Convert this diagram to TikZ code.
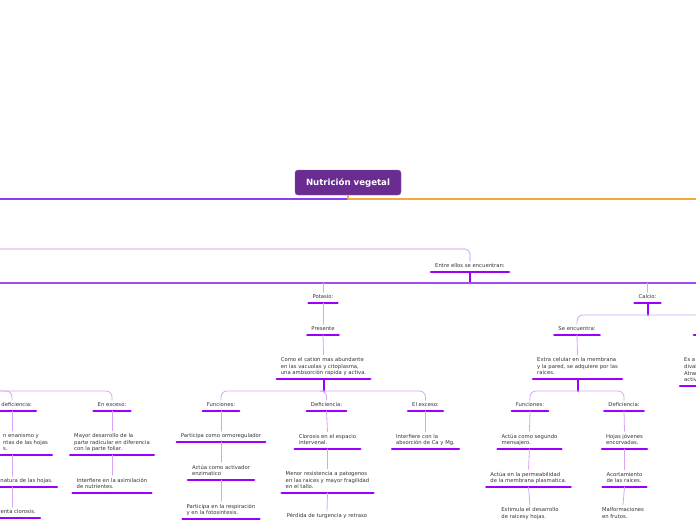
\documentclass[tikz,border=0pt]{standalone}
\usepackage{fontspec}
\setmainfont{DejaVu Sans}
\usetikzlibrary{positioning}
\definecolor{craiz}{HTML}{6A2C91}
\definecolor{naranja}{HTML}{F5A742}
\definecolor{morado}{HTML}{8A3FF5}
\definecolor{lila}{HTML}{DDBDFB}
\definecolor{violeta}{HTML}{A24BF2}
\definecolor{subraya}{HTML}{9B00FA}
\definecolor{cenlace}{HTML}{D6A3F5}
\definecolor{texto}{HTML}{333333}
\begin{document}
\begin{tikzpicture}[x=1pt, y=-1pt, line join=round, line cap=round,
  centro/.style={fill=craiz, draw=craiz!80!white, rounded corners=3pt, minimum width=106pt, minimum height=25pt, text=white, font=\fontsize{8.6}{10}\selectfont\bfseries},
  tema/.style={font=\fontsize{5.3}{6.7}\selectfont, text=texto, align=left, inner xsep=5pt, inner ysep=2.5pt, text depth=1.4pt, anchor=south,
    append after command={([xshift=1pt]\tikzlastnode.south west) edge[subraya, line width=2.3pt] ([xshift=-1pt]\tikzlastnode.south east)}},
  enlace/.style={cenlace, line width=0.8pt},
  tallo/.style={subraya, line width=2pt},
  linea/.style={line width=1.2pt},
]
\useasboundingbox (0,0) rectangle (696,520);
\clip (0,0) rectangle (696,520);

% tema central
\node[centro] (raiz) at (348,182.5) {Nutrición vegetal};

% nodos
\node[tema] (entre) at (470,272) {Entre ellos se encuentran:};
\node[tema] (potasio) at (323,303) {Potasio:};
\node[tema] (presente) at (323,335) {Presente};
\node[tema] (cation) at (323.5,379) {Como el cation mas abundante\\ en las vacuolas y citoplasma,\\ una ambsorción rapida y activa.};
\node[tema] (kfun) at (221,411) {Funciones:};
\node[tema] (kfun1) at (221,442) {Participa como ormoregulador};
\node[tema] (kfun2) at (221,480) {Actúa como activador\\ enzimatico};
\node[tema] (kfun3) at (221,519) {Participa en la respiración\\ y en la fotosintesis.};
\node[tema] (kdef) at (326.5,411) {Deficiencia:};
\node[tema] (kdef1) at (327.5,449) {Clorosis en el espacio\\ intervenal.};
\node[tema] (kdef2) at (327.5,493) {Menor resistencia a patogenos\\ en las raices y mayor fragilidad\\ en el tallo.};
\node[tema, anchor=north] (kdef3) at (327,511) {Pérdida de turgencia y retraso};
\node[tema] (kexc) at (425.5,411) {El exceso:};
\node[tema] (kexc1) at (425.5,449) {Interfiere con la\\ absorción de Ca y Mg.};

\node[tema, anchor=south east] (ldef) at (37,411) {deficiencia:};
\node[tema, anchor=south east] (ldef1) at (53,455) {n enanismo y\\ ntas de las hojas\\ s.};
\node[tema, anchor=south east] (ldef2) at (58,487) {natura de las hojas.};
\node[tema, anchor=south east] (ldef3) at (41,518) {enta clorosis.};
\node[tema] (lexc) at (112,411) {En exceso:};
\node[tema] (lexc1) at (112,455) {Mayor desarrollo de la\\ parte radicular en diferencia\\ con la parte foliar.};
\node[tema] (lexc2) at (112,493) {Interfiere en la asimilación\\ de nutrientes.};

\node[tema] (calcio) at (647.5,303) {Calcio:};
\node[tema] (seenc) at (577,335) {Se encuentra:};
\node[tema] (extra) at (577.5,379) {Extra celular en la membrana\\ y la pared, se adquiere por las\\ raices.};
\node[tema, minimum width=44pt] (cotro) at (715,335) {};
\node[tema, anchor=south west] (esa) at (679,386) {Es a\\ dival\\ Atrar\\ activ};
\node[tema] (cfun) at (530,411) {Funciones:};
\node[tema] (cfun1) at (529.5,449) {Actúa como segundo\\ mensajero.};
\node[tema] (cfun2) at (528.5,487) {Actúa en la permeabilidad\\ de la membrana plasmatica.};
\node[tema, anchor=north] (cfun3) at (530,505) {Estimula el desarrollo\\ de raicesy hojas.};
\node[tema] (cdef) at (624,411) {Deficiencia:};
\node[tema] (cdef1) at (624.5,449) {Hojas jóvenes\\ encorvadas.};
\node[tema] (cdef2) at (624.5,487) {Acortamiento\\ de las raices.};
\node[tema, anchor=north] (cdef3) at (623,505) {Malformaciones\\ en frutos.};

% lineas principales
\coordinate (hubL) at (-5,199);
\coordinate (hubR) at (701,199);
\coordinate (lilaL) at (-5,249);
\coordinate (barL) at (-5,283);
\coordinate (barR) at (701,283);
\coordinate (lbar) at (-5,391);
\coordinate (lcol) at (12,0);
\draw[morado, linea] (raiz.south |- hubL) -- (hubL);
\draw[naranja, linea] (raiz.south) -- (raiz.south |- hubR) -- (hubR);
\draw[lila, linea, rounded corners=5pt] (lilaL) -| (entre.north);
\coordinate (kbar) at (entre.south |- barL);
\draw[tallo] (entre.south) -- (kbar);
\draw[violeta, linea] (barL) -- (barR);

% potasio
\draw[enlace] (potasio.north |- kbar) -- (potasio.north);
\draw[enlace] (potasio.south) -- (presente.north);
\draw[enlace] (presente.south) -- (cation.north);
\coordinate (kpar) at (cation.south |- lbar);
\draw[tallo] (cation.south) -- (kpar);
\draw[enlace, rounded corners=6pt] (kpar) -| (kfun.north);
\draw[enlace, rounded corners=6pt] (kpar) -| (kdef.north);
\draw[enlace, rounded corners=6pt] (kpar) -| (kexc.north);
\draw[enlace] (kfun.south) -- (kfun1.north);
\draw[enlace] (kfun1.south) -- (kfun2.north);
\draw[enlace] (kfun2.south) -- (kfun3.north);
\draw[enlace] (kdef.south) -- (kdef1.north);
\draw[enlace] (kdef1.south) -- (kdef2.north);
\draw[enlace] (kdef2.south) -- (kdef3.north);
\draw[enlace] (kexc.south) -- (kexc1.north);

% rama izquierda
\draw[enlace, rounded corners=6pt] (lbar) -| (ldef.north -| lcol);
\draw[enlace, rounded corners=6pt] (lbar) -| (lexc.north);
\draw[enlace] (ldef.south -| lcol) -- (ldef1.north -| lcol);
\draw[enlace] (ldef1.south -| lcol) -- (ldef2.north -| lcol);
\draw[enlace] (ldef2.south -| lcol) -- (ldef3.north -| lcol);
\draw[enlace] (lexc.south) -- (lexc1.north);
\draw[enlace] (lexc1.south) -- (lexc2.north);

% calcio
\draw[enlace] (calcio.north |- kbar) -- (calcio.north);
\coordinate (cbar) at (calcio.south |- 0,315);
\draw[tallo] (calcio.south) -- (cbar);
\draw[enlace, rounded corners=6pt] (cbar) -| (seenc.north);
\draw[enlace, rounded corners=6pt] (cbar) -| (cotro.north);
\draw[enlace] (seenc.south) -- (extra.north);
\coordinate (cpar) at (extra.south |- lbar);
\draw[tallo] (extra.south) -- (cpar);
\draw[enlace, rounded corners=6pt] (cpar) -| (cfun.north);
\draw[enlace, rounded corners=6pt] (cpar) -| (cdef.north);
\draw[enlace] (cfun.south) -- (cfun1.north);
\draw[enlace] (cfun1.south) -- (cfun2.north);
\draw[enlace] (cfun2.south) -- (cfun3.north);
\draw[enlace] (cdef.south) -- (cdef1.north);
\draw[enlace] (cdef1.south) -- (cdef2.north);
\draw[enlace] (cdef2.south) -- (cdef3.north);
\end{tikzpicture}
\end{document}
